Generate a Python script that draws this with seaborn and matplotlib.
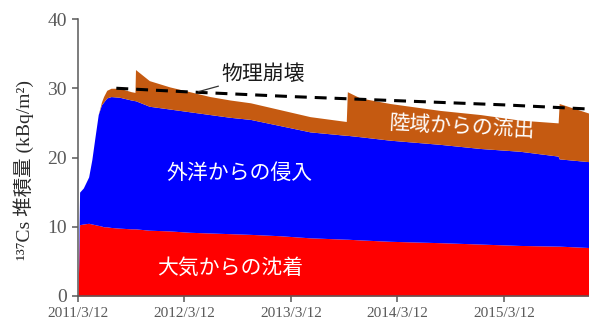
import numpy as np
import pandas as pd
import matplotlib
matplotlib.use("Agg")
import matplotlib.pyplot as plt
import seaborn as sns

# ---- data (years since 2011/3/12) ----
t = [0.000, 0.015, 0.05, 0.10, 0.13, 0.16, 0.19, 0.22, 0.24, 0.27, 0.31, 0.39,
     0.50, 0.535, 0.54, 0.67, 0.86, 1.05, 1.24, 1.43, 1.62, 1.90, 2.18, 2.52,
     2.53, 2.65, 2.93, 3.40, 3.78, 4.15, 4.51, 4.52, 4.80]
atmos = [0.0, 10.3, 10.4, 10.5, 10.4, 10.3, 10.2, 10.1, 10.0, 10.0, 9.9, 9.8,
         9.7, 9.7, 9.7, 9.5, 9.4, 9.2, 9.1, 9.0, 8.9, 8.7, 8.4, 8.2,
         8.2, 8.1, 7.9, 7.7, 7.5, 7.3, 7.2, 7.2, 7.0]
ocean = [0.0, 4.7, 5.2, 6.7, 9.3, 12.7, 16.0, 17.5, 18.0, 18.6, 18.9, 18.9,
         18.6, 18.5, 18.5, 17.9, 17.6, 17.4, 17.1, 16.8, 16.6, 15.9, 15.3, 15.0,
         15.0, 14.9, 14.6, 14.2, 13.8, 13.6, 13.0, 12.6, 12.4]
land = [0.0, 0.0, 0.0, 0.0, 0.0, 0.0, 0.0, 0.4, 0.8, 1.1, 1.2, 1.3,
        1.2, 1.2, 4.5, 3.7, 3.2, 2.9, 2.6, 2.5, 2.4, 2.3, 2.2, 2.0,
        6.3, 5.6, 5.3, 4.9, 4.9, 4.5, 4.8, 8.0, 7.0]

decay_t = [0.36, 1.0, 2.0, 3.0, 4.0, 4.8]
decay_v = [30.0, 29.5, 28.8, 28.2, 27.6, 27.0]

xtick_pos = [0, 1, 2, 3, 4]
xtick_labels = ["2011/3/12", "2012/3/12", "2013/3/12", "2014/3/12", "2015/3/12"]
ytick_pos = [0, 10, 20, 30, 40]

labels = {"atmos": "大気からの沈着", "ocean": "外洋からの侵入", "land": "陸域からの流出",
          "decay": "物理崩壊"}
colors = {"atmos": "#FF0000", "ocean": "#0000FF", "land": "#C55A11"}

# ---- style ----
sns.set_style("ticks")
plt.rcParams["font.family"] = ["Noto Sans CJK JP", "DejaVu Sans"]

fig = plt.figure(figsize=(5.89, 3.22), dpi=100)
ax = fig.add_axes([78 / 589, 26 / 322, 511 / 589, 277 / 322])

df = pd.DataFrame({"t": t, "atmos": atmos, "ocean": ocean, "land": land})
r_top = df["atmos"].values
b_top = r_top + df["ocean"].values
l_top = b_top + df["land"].values

ax.fill_between(df["t"], 0, r_top, color=colors["atmos"], lw=0, zorder=2)
ax.fill_between(df["t"], r_top, b_top, color=colors["ocean"], lw=0, zorder=2)
ax.fill_between(df["t"], b_top, l_top, color=colors["land"], lw=0, zorder=2)

ddf = pd.DataFrame({"t": decay_t, "v": decay_v})
sns.lineplot(data=ddf, x="t", y="v", ax=ax, color="black", lw=2.2,
             dashes=False, zorder=3)
ax.lines[-1].set_dashes([3.9, 2.6])

ax.set_xlim(0, 4.8)
ax.set_ylim(0, 40)
ax.set_xticks(xtick_pos)
ax.set_xticklabels(xtick_labels)
ax.set_yticks(ytick_pos)
ax.set_xlabel("")
ax.set_ylabel("")

serif = ["Liberation Serif", "DejaVu Serif", "Noto Sans CJK JP"]
for lab in ax.get_xticklabels():
    lab.set_fontfamily(serif)
    lab.set_fontsize(11)
    lab.set_color("#595959")
for lab in ax.get_yticklabels():
    lab.set_fontfamily(serif)
    lab.set_fontsize(14)
    lab.set_color("#595959")

ax.tick_params(axis="both", direction="out", length=4, width=1.1, color="#595959")
ax.tick_params(axis="x", pad=4)
ax.tick_params(axis="y", pad=4)
for s in ["top", "right"]:
    ax.spines[s].set_visible(False)
for s in ["left", "bottom"]:
    ax.spines[s].set_color("#595959")
    ax.spines[s].set_linewidth(1.1)

fig.text(24 / 589, 1 - 170 / 322, "¹³⁷Cs 堆積量 (kBq/m²)", rotation=90,
         ha="center", va="center", fontsize=14, color="#2b2b2b",
         family=serif)

ax.text(1.52, 17.8, labels["ocean"], color="white", fontsize=15,
        ha="center", va="center", zorder=4)
ax.text(1.43, 4.0, labels["atmos"], color="white", fontsize=15,
        ha="center", va="center", zorder=4)
ax.text(3.6, 24.5, labels["land"], color="white", fontsize=15,
        ha="center", va="center", rotation=-3, zorder=4)

ax.annotate(labels["decay"], xy=(1.13, 29.5), xytext=(1.35, 32.1),
            fontsize=15, color="#1a1a1a", ha="left", va="center",
            arrowprops=dict(arrowstyle="-", color="#333333", lw=0.9,
                            shrinkA=0, shrinkB=0), zorder=4)

fig.savefig("out.png", dpi=100)
